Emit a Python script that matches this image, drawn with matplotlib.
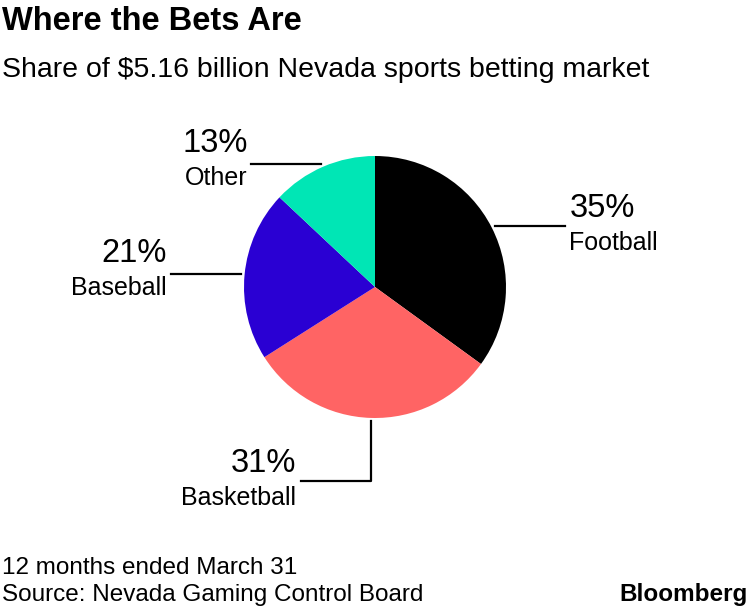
import numpy as np
import matplotlib.pyplot as plt

plt.rcParams["font.family"] = ["Liberation Sans", "DejaVu Sans"]

# ── données ──────────────────────────────────────────────
sports = ["Football", "Basketball", "Baseball", "Other"]
shares = [35, 31, 21, 13]
colors = ["#000000", "#ff6464", "#2a00d3", "#00e6b5"]

W, H = 750, 608
CX, CY, R = 375, H - 287, 131

fig = plt.figure(figsize=(W / 100, H / 100), dpi=100)
ax = fig.add_axes([0, 0, 1, 1])

wedges, _ = ax.pie(shares, colors=colors, startangle=90, counterclock=False,
                   center=(CX, CY), radius=R, frame=True,
                   wedgeprops=dict(linewidth=0))
ax.set_xlim(0, W)
ax.set_ylim(0, H)
ax.set_aspect("equal")
ax.axis("off")

# ── étiquettes avec traits de rappel ─────────────────────
for w, name, val in zip(wedges, sports, shares):
    ang = np.deg2rad((w.theta1 + w.theta2) / 2)
    ex = CX + (R + 4) * np.cos(ang)
    ey = CY + (R + 3) * np.sin(ang)
    if name == "Basketball":
        # trait vertical puis horizontal
        ey2 = ey - 60
        ax.plot([ex, ex, ex - 70], [ey, ey2, ey2], color="black", lw=1.6)
        tx, ha, ty = ex - 75, "right", ey2
    elif np.cos(ang) >= 0:
        ax.plot([ex, ex + 70], [ey, ey], color="black", lw=1.6)
        tx, ha, ty = ex + 74, "left", ey
    else:
        ax.plot([ex, ex - 70], [ey, ey], color="black", lw=1.6)
        tx, ha, ty = ex - 74, "right", ey + 3
    ax.text(tx, ty + 2, f"{val}%", ha=ha, va="bottom", fontsize=23.5)
    ax.text(tx, ty - 5, name, ha=ha, va="top", fontsize=18)

# ── titres et notes ──────────────────────────────────────
fig.text(2 / W, 1 - 22 / H, "Where the Bets Are", fontsize=23.5,
         fontweight="bold", va="center", ha="left")
fig.text(2 / W, 1 - 70 / H, "Share of $5.16 billion Nevada sports betting market",
         fontsize=20.5, va="center", ha="left")
fig.text(2 / W, 1 - 568 / H, "12 months ended March 31", fontsize=17.5,
         va="center", ha="left")
fig.text(2 / W, 1 - 595 / H, "Source: Nevada Gaming Control Board", fontsize=17.5,
         va="center", ha="left")
fig.text(1 - 2 / W, 1 - 595 / H, "Bloomberg", fontsize=17.5, fontweight="bold",
         va="center", ha="right")

plt.savefig("out.png", dpi=100)
